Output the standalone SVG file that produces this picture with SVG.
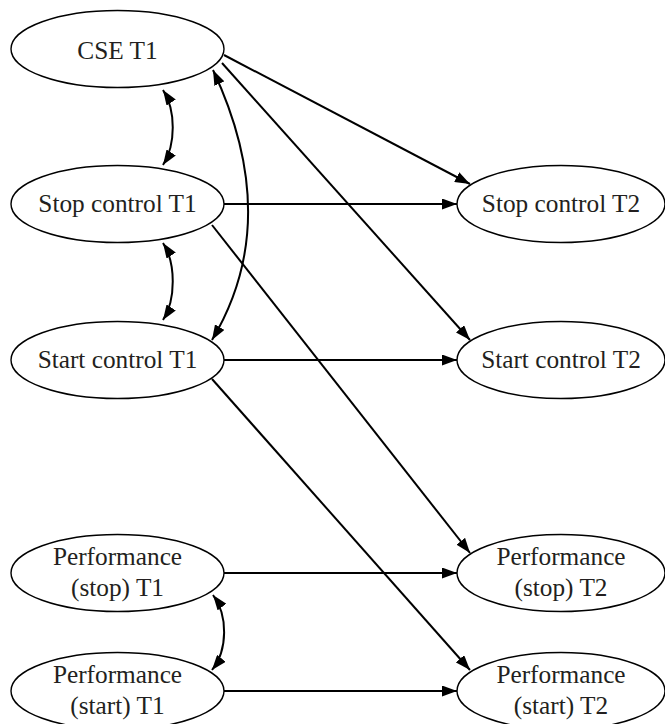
<svg xmlns="http://www.w3.org/2000/svg" width="665" height="724" viewBox="0 0 665 724">
<style>
.node ellipse{fill:#fff;stroke:#000;stroke-width:1.4}
.node text{font-family:'Liberation Serif','Times New Roman',Times,'DejaVu Serif',serif;font-size:25.3px;fill:#231f20;text-anchor:middle}
.edges path{fill:none;stroke:#000;stroke-width:2}
</style>
<defs>
<marker id="ah" viewBox="0 0 15 11" refX="15" refY="5.5" markerWidth="15" markerHeight="11" markerUnits="userSpaceOnUse" orient="auto-start-reverse">
<path d="M0,0 L15,5.5 L0,11 Z" fill="#000"/>
</marker>
</defs>
<rect width="665" height="724" fill="#fff"/>
<g class="edges">
<path d="M224,55 L470,184" marker-end="url(#ah)"/>
<path d="M222,63 L470,340" marker-end="url(#ah)"/>
<path d="M213,70 C260,170 260,260 212,340" marker-start="url(#ah)" marker-end="url(#ah)"/>
<path d="M163,90 C176,110 176,145 163,165" marker-start="url(#ah)" marker-end="url(#ah)"/>
<path d="M163,243 C176,263 176,300 163,320" marker-start="url(#ah)" marker-end="url(#ah)"/>
<path d="M213,595 C228,615 228,650 212,670" marker-start="url(#ah)" marker-end="url(#ah)"/>
<path d="M224,204 L457,204" marker-end="url(#ah)"/>
<path d="M224,360 L457,360" marker-end="url(#ah)"/>
<path d="M212,225 L470,553" marker-end="url(#ah)"/>
<path d="M212,379 L470,670" marker-end="url(#ah)"/>
<path d="M224,573 L457,573" marker-end="url(#ah)"/>
<path d="M224,691 L457,691" marker-end="url(#ah)"/>
</g>
<g id="cse_t1" class="node"><ellipse cx="117.5" cy="49" rx="106.5" ry="38.5"/><text x="117.5" y="59" font-family="Liberation Serif, serif">CSE T1</text></g>
<g id="stop_t1" class="node"><ellipse cx="117.5" cy="204" rx="106.5" ry="38.5"/><text x="117.5" y="212" font-family="Liberation Serif, serif">Stop control T1</text></g>
<g id="start_t1" class="node"><ellipse cx="117.5" cy="360" rx="106.5" ry="38.5"/><text x="117.5" y="368" font-family="Liberation Serif, serif">Start control T1</text></g>
<g id="perf_stop_t1" class="node"><ellipse cx="117.5" cy="573" rx="106.5" ry="38.5"/><text x="117.5" y="565" font-family="Liberation Serif, serif">Performance</text><text x="117.5" y="596" font-family="Liberation Serif, serif">(stop) T1</text></g>
<g id="perf_start_t1" class="node"><ellipse cx="117.5" cy="691" rx="106.5" ry="38.5"/><text x="117.5" y="683" font-family="Liberation Serif, serif">Performance</text><text x="117.5" y="714" font-family="Liberation Serif, serif">(start) T1</text></g>
<g id="stop_t2" class="node"><ellipse cx="561" cy="204" rx="104" ry="38.5"/><text x="561" y="212" font-family="Liberation Serif, serif">Stop control T2</text></g>
<g id="start_t2" class="node"><ellipse cx="561" cy="360" rx="104" ry="38.5"/><text x="561" y="368" font-family="Liberation Serif, serif">Start control T2</text></g>
<g id="perf_stop_t2" class="node"><ellipse cx="561" cy="573" rx="104" ry="38.5"/><text x="561" y="565" font-family="Liberation Serif, serif">Performance</text><text x="561" y="596" font-family="Liberation Serif, serif">(stop) T2</text></g>
<g id="perf_start_t2" class="node"><ellipse cx="561" cy="691" rx="104" ry="38.5"/><text x="561" y="683" font-family="Liberation Serif, serif">Performance</text><text x="561" y="714" font-family="Liberation Serif, serif">(start) T2</text></g>
</svg>
